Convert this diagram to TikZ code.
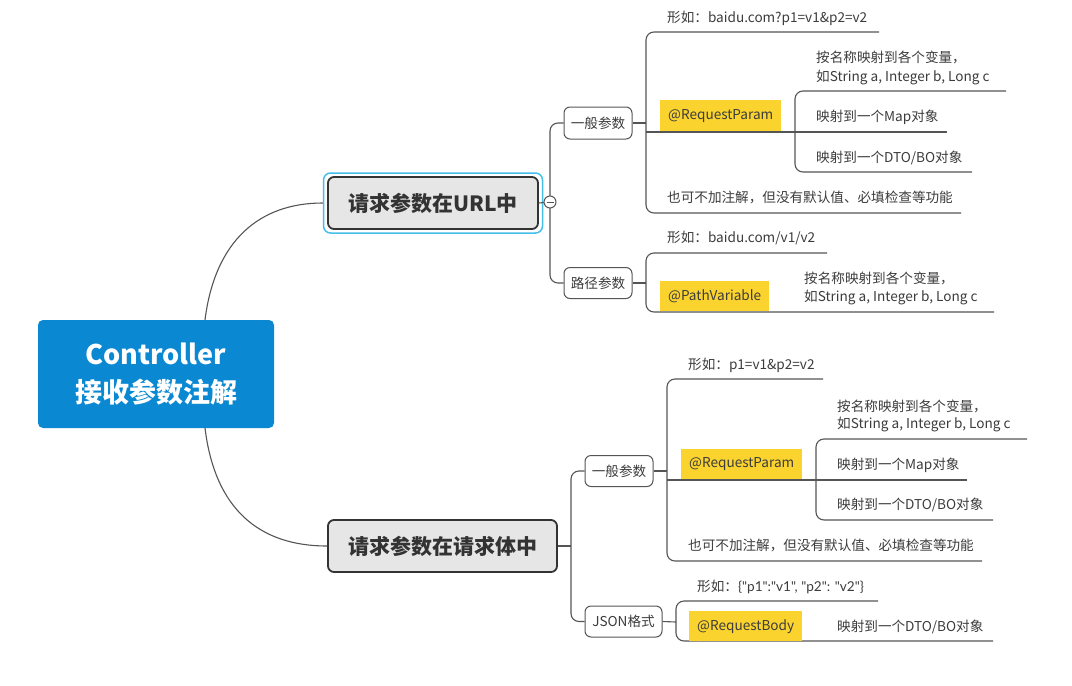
\documentclass[tikz,border=0pt]{standalone}
\usepackage{fontspec}
\usetikzlibrary{calc}
\setmainfont{Noto Sans CJK SC}
\newfontfamily\lat{Lato}
\definecolor{lg}{HTML}{555555}
\definecolor{tg}{HTML}{3C3C3C}
\definecolor{yel}{HTML}{FAD32E}
\definecolor{blu}{HTML}{0A88D2}
\definecolor{sel}{HTML}{45BFEA}
\definecolor{ng}{HTML}{E6E6E6}
\begin{document}
\begin{tikzpicture}[x=1pt,y=-1pt,
 ln/.style={draw=lg,line width=1.1pt},
 tx/.style={anchor=base west,inner sep=0pt,text=tg,font=\fontsize{13.6}{17}\selectfont},
 yb/.style={fill=yel,inner sep=0pt,anchor=north west,text=tg,font=\fontsize{13.6}{17}\selectfont},
 sb/.style={draw=lg,line width=1pt,rounded corners=6pt,fill=white,text=tg,font=\fontsize{13.6}{17}\selectfont,inner sep=0pt},
 mb/.style={draw=black!80,line width=1.8pt,rounded corners=6pt,fill=ng,text=black!80,font=\bfseries\fontsize{21}{25}\selectfont,inner sep=0pt}]
\useasboundingbox[fill=white] (0,0) rectangle (1072,686);

% root
\node[fill=blu,rounded corners=5pt,minimum width=236pt,minimum height=108pt,inner sep=0pt,align=center,text=white,font=\bfseries\fontsize{27}{38}\selectfont] (root) at (156,374) {Controller\\接收参数注解};

% main nodes
\node[draw=sel,line width=1.5pt,rounded corners=7pt,minimum width=219pt,minimum height=60pt,inner sep=0pt] (sel1) at (433,203) {};
\node[mb,minimum width=210pt,minimum height=52pt] (n1) at (433,203) {请求参数在URL中};
\node[mb,minimum width=229pt,minimum height=52pt] (n2) at (442.5,546) {请求参数在请求体中};

\coordinate (r1) at (205,320);
\coordinate (r2) at (205,428);
\draw[ln] (r1) .. controls (215,240) and (260,203) .. (sel1.west);
\draw[ln] (r2) .. controls (215,510) and (260,546) .. (n2.west);

% level 2 top
\node[sb,minimum width=68pt,minimum height=32pt] (g1) at (598,123) {一般参数};
\node[sb,minimum width=68pt,minimum height=31pt] (g2) at (598,283) {路径参数};
\coordinate (c1) at (550,202);
\draw[ln,rounded corners=8pt] (g1.west) -| (c1) |- (g2.west);
\draw[ln] (n1.east) -- (c1);
\node[circle,draw=lg,fill=white,line width=1pt,minimum size=12pt,inner sep=0pt] (col) at (c1) {};
\draw[lg,line width=1pt] ($(col.center)+(-3.5,0)$) -- ($(col.center)+(3.5,0)$);

% group A
\coordinate (a) at (646,123);
\draw[ln] (g1.east) -- (a);
\draw[ln,rounded corners=8pt] (879,32) -- (646,32) -- (646,213) -- (961,213);
\node[yb,minimum width=121pt,minimum height=31pt] (rp1) at (660,100) {@RequestParam};
\draw[ln] (646,132) -- (947,132);
\draw[ln,rounded corners=8pt] (1006,91) -- (795,91) -- (795,172) -- (972,172);
\node[tx] (a1) at (667,22) {形如：baidu.com?p1=v1\&p2=v2};
\node[tx] (a2) at (816,62) {按名称映射到各个变量，};
\node[tx] (a3) at (816,81) {如String a, Integer b, Long c};
\node[tx] (a4) at (816,121) {映射到一个Map对象};
\node[tx] (a5) at (816,162) {映射到一个DTO/BO对象};
\node[tx] (a6) at (667,202) {也可不加注解，但没有默认值、必填检查等功能};

% group B
\draw[ln] (g2.east) -- (646,283);
\draw[ln,rounded corners=8pt] (827,253) -- (646,253) -- (646,312) -- (994,312);
\node[yb,minimum width=109pt,minimum height=30pt] (pv) at (660,281) {@PathVariable};
\node[tx] (b1) at (667,242) {形如：baidu.com/v1/v2};
\node[tx] (b2) at (804,283) {按名称映射到各个变量，};
\node[tx] (b3) at (804,301) {如String a, Integer b, Long c};

% level 2 bottom
\node[sb,minimum width=68pt,minimum height=31pt] (h1) at (619,471) {一般参数};
\node[sb,minimum width=77pt,minimum height=31pt] (h2) at (623.5,621.5) {JSON格式};
\coordinate (c2) at (571,546);
\draw[ln,rounded corners=8pt] (h1.west) -| (c2) |- (h2.west);
\draw[ln] (n2.east) -- (c2);

% group C
\draw[ln] (h1.east) -- (667,471);
\draw[ln,rounded corners=8pt] (823,379) -- (667,379) -- (667,561) -- (982,561);
\node[yb,minimum width=121pt,minimum height=30pt] (rp2) at (681,449) {@RequestParam};
\draw[ln] (667,480) -- (967,480);
\draw[ln,rounded corners=8pt] (1027,439) -- (816,439) -- (816,520) -- (993,520);
\node[tx] (d1) at (688,369) {形如：p1=v1\&p2=v2};
\node[tx] (d2) at (837,411) {按名称映射到各个变量，};
\node[tx] (d3) at (837,428) {如String a, Integer b, Long c};
\node[tx] (d4) at (837,469) {映射到一个Map对象};
\node[tx] (d5) at (837,509) {映射到一个DTO/BO对象};
\node[tx] (d6) at (688,550) {也可不加注解，但没有默认值、必填检查等功能};

% group D
\draw[ln] (h2.east) -- (676,622);
\draw[ln,rounded corners=8pt] (878,601) -- (676,601) -- (676,641) -- (993,641);
\node[yb,minimum width=113pt,minimum height=30pt] (rb) at (689,611) {@RequestBody};
\node[tx] (e1) at (697,591) {形如：{\lat\{"p1":"v1", "p2": "v2"\}}};
\node[tx] (e2) at (837,631) {映射到一个DTO/BO对象};
\end{tikzpicture}
\end{document}
